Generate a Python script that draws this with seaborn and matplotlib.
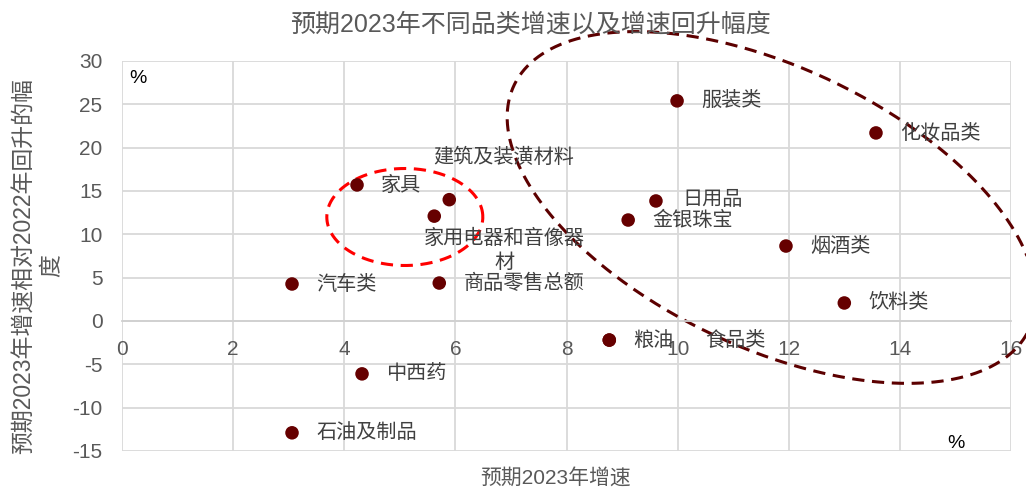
import numpy as np
import pandas as pd
import matplotlib
matplotlib.use("Agg")
import matplotlib.pyplot as plt
import seaborn as sns

sns.set_style("white")
plt.rcParams['font.family'] = ['Liberation Sans', 'Noto Sans CJK SC', 'DejaVu Sans']
plt.rcParams['axes.unicode_minus'] = False

# data
categories = ['家具', '建筑及装潢材料', '家用电器和音像器\n材', '服装类', '化妆品类', '日用品',
              '金银珠宝', '烟酒类', '汽车类', '商品零售总额', '饮料类', '粮油', '食品类',
              '中西药', '石油及制品']
growth_2023 = [4.23, 5.89, 5.62, 9.99, 13.57, 9.61, 9.11, 11.95, 3.06, 5.71, 13.0, 8.77, 8.77,
               4.32, 3.06]
rebound = [15.7, 14.0, 12.1, 25.4, 21.7, 13.85, 11.65, 8.65, 4.27, 4.38, 2.08, -2.2, -2.2,
           -6.1, -12.9]
x_ticks = [0, 2, 4, 6, 8, 10, 12, 14, 16]
y_ticks = [-15, -10, -5, 0, 5, 10, 15, 20, 25, 30]

df = pd.DataFrame({'name': categories, 'x': growth_2023, 'y': rebound})

# label placement (pixel offsets from the point)
default_off = (24, 0, 'left', 'center')
label_off = {
    '建筑及装潢材料': (54, 42, 'center', 'center'),
    '家用电器和音像器\n材': (70, -34, 'center', 'center'),
    '食品类': (96, 0, 'left', 'center'),
    '日用品': (26, 1, 'left', 'center'),
}

grey = '#595959'
txt = '#404040'
pt_color = '#660000'

fig = plt.figure(figsize=(10.26, 4.91), dpi=100)
ax = fig.add_axes([122 / 1026, 1 - 451 / 491, (1011 - 122) / 1026, (451 - 61) / 491])

sns.scatterplot(data=df, x='x', y='y', ax=ax, color=pt_color, s=95, edgecolor='none',
                legend=False, zorder=3)

for _, r in df.iterrows():
    dx, dy, ha, va = label_off.get(r['name'], default_off)
    ax.annotate(r['name'], (r['x'], r['y']), xytext=(dx, dy), textcoords='offset pixels',
                ha=ha, va=va, fontsize=14.5, color=txt, linespacing=1.35, zorder=4)

ax.set_xlim(0, 16)
ax.set_ylim(-15, 30)
ax.set_xticks(x_ticks)
ax.set_yticks(y_ticks)
ax.grid(True, color='#d9d9d9', linewidth=1.3)
for side in ['top', 'right', 'left']:
    ax.spines[side].set_visible(False)
ax.spines['bottom'].set_position(('data', 0))
ax.spines['bottom'].set_color('#d0d0d0')
ax.spines['bottom'].set_linewidth(1.3)
ax.tick_params(axis='both', length=0, labelsize=15, labelcolor=grey)
ax.tick_params(axis='x', pad=14)
ax.tick_params(axis='y', pad=14)

ax.set_xlabel('')
ax.set_ylabel('')
fig.text(556 / 1026, 1 - 478 / 491, '预期2023年增速', ha='center', va='center',
         fontsize=15, color=grey)
fig.text(38 / 1026, 1 - 266 / 491, '预期2023年增速相对2022年回升的幅\n度', ha='center', va='center',
         rotation=90, fontsize=16.5, color=grey, linespacing=1.25)
fig.text(530 / 1026, 1 - 25 / 491, '预期2023年不同品类增速以及增速回升幅度', ha='center',
         va='center', fontsize=18, color=grey)

ax.text(0.008, 0.955, '%', transform=ax.transAxes, fontsize=14, color='black', va='center')
ax.text(0.928, 0.02, '%', transform=ax.transAxes, fontsize=14, color='black', va='center')

# highlight ellipses (defined in pixel units, mapped to data)
px_x = (1011 - 122) / 16
px_y = (451 - 61) / 45
t = np.linspace(0, 2 * np.pi, 400)

# small red circle around household items
ex = 5.09 + 78 * np.cos(t) / px_x
ey = 12.0 + 48.5 * np.sin(t) / px_y
ax.plot(ex, ey, color='#ff0000', lw=2.2, ls=(0, (4, 2.5)), clip_on=False, zorder=2)

# big tilted ellipse on the high-growth side
a, b, th = 285, 140, np.deg2rad(25.4)
bx = 11.69 + (a * np.cos(t) * np.cos(th) - b * np.sin(t) * np.sin(th)) / px_x
by = 13.1 - (a * np.cos(t) * np.sin(th) + b * np.sin(t) * np.cos(th)) / px_y
ax.plot(bx, by, color='#5c0000', lw=2.2, ls=(0, (4, 2.5)), clip_on=False, zorder=2)

fig.savefig('out.png', dpi=100)
